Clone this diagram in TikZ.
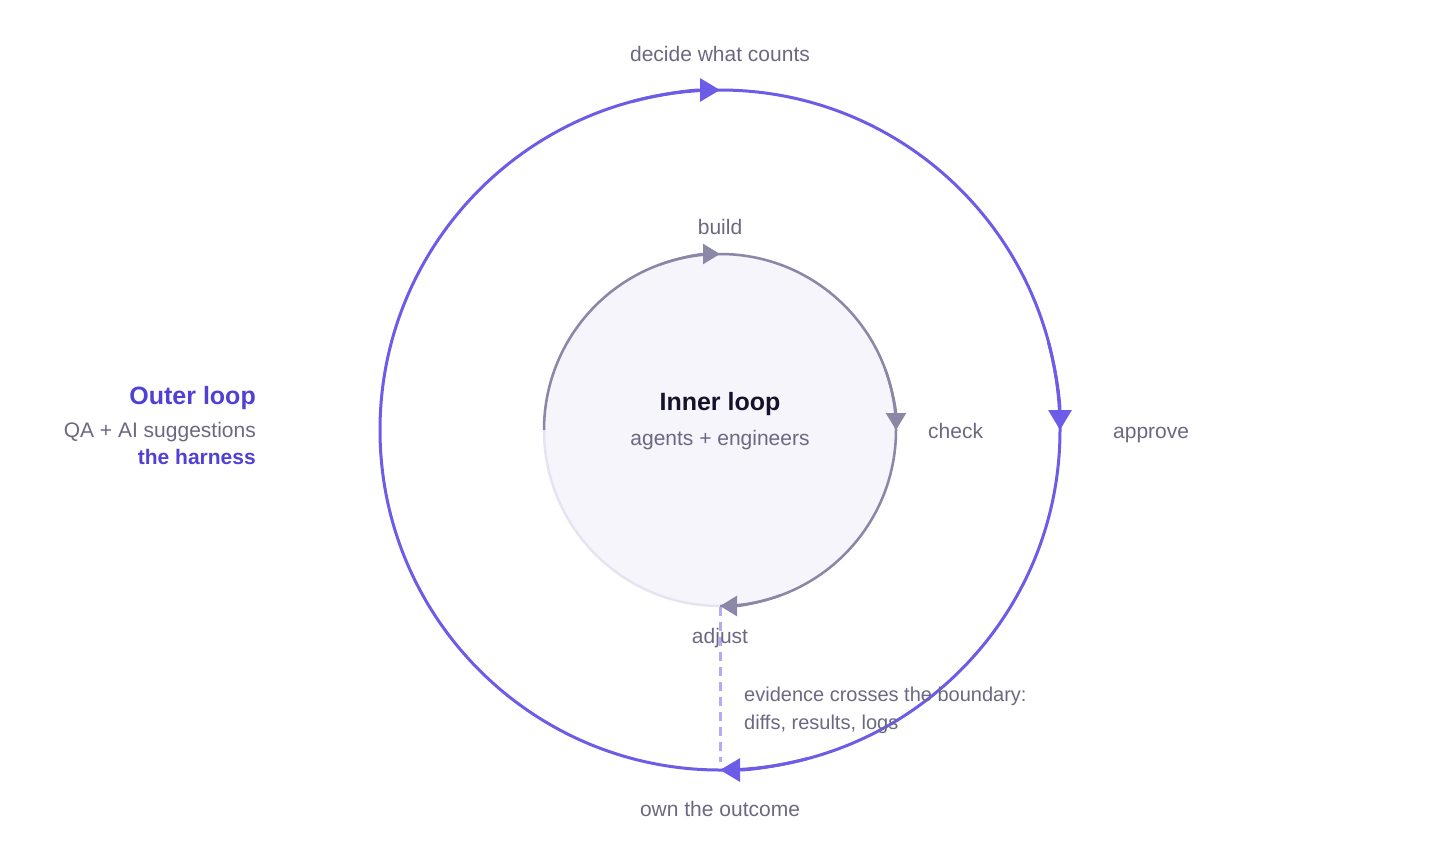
\documentclass[tikz,border=0pt]{standalone}
\usepackage{fontspec}
\setmainfont{Liberation Sans}
\usetikzlibrary{arrows.meta}
\definecolor{outerc}{HTML}{6C5CE7}
\definecolor{innerc}{HTML}{8A88A6}
\definecolor{innerlight}{HTML}{E6E4F1}
\definecolor{innerfill}{HTML}{F6F5FC}
\definecolor{labelc}{HTML}{6B6882}
\definecolor{titlec}{HTML}{15132B}
\definecolor{accentc}{HTML}{5040D6}
\definecolor{dashc}{HTML}{B5AAF3}
\begin{document}
\begin{tikzpicture}[x=1pt,y=-1pt,
  lbl/.style={text=labelc, font=\fontsize{21}{25}\selectfont, inner sep=0pt, anchor=base},
  small/.style={font=\fontsize{20}{24}\selectfont},
  outerarc/.style={draw=outerc, line width=3pt},
  innerarc/.style={draw=innerc, line width=2.5pt},
  outertip/.style={-{Triangle[length=20pt,width=23pt]}},
  innertip/.style={-{Triangle[length=17pt,width=20pt]}},
  evid/.style={draw=dashc, line width=3pt, dash pattern=on 9pt off 6pt}]
\useasboundingbox (0,0) rectangle (1440,860);
\coordinate (C) at (720,430);
% inner loop
\fill[innerfill] (C) circle[radius=176];
\draw[innerlight, line width=2.5pt] (C) circle[radius=176];
\draw[innerarc] ([shift={(180:176)}]C) arc[start angle=180, end angle=450, radius=176];
\draw[innerarc, innertip] ([shift={(250:176)}]C) arc[start angle=250, end angle=270, radius=176];
\draw[innerarc, innertip] ([shift={(-20:176)}]C) arc[start angle=-20, end angle=0, radius=176];
\draw[innerarc, innertip] ([shift={(70:176)}]C) arc[start angle=70, end angle=90, radius=176];
% outer loop
\draw[outerarc] (C) circle[radius=340];
\draw[outerarc, outertip] ([shift={(255:340)}]C) arc[start angle=255, end angle=270, radius=340];
\draw[outerarc, outertip] ([shift={(-15:340)}]C) arc[start angle=-15, end angle=0, radius=340];
\draw[outerarc, outertip] ([shift={(75:340)}]C) arc[start angle=75, end angle=90, radius=340];
% evidence connector
\coordinate (innerbottom) at (720,607);
\coordinate (outerbottom) at (720,762);
\draw[evid] (innerbottom) -- (outerbottom);
% labels
\node[lbl] (decide) at (720,61) {decide what counts};
\node[lbl] (build) at (720,234) {build};
\node[lbl, anchor=base west] (check) at (928,438) {check};
\node[lbl, anchor=base west] (approve) at (1113,438) {approve};
\node[lbl] (adjust) at (720,643) {adjust};
\node[lbl, small, anchor=base west] (ev1) at (744,701) {evidence crosses the boundary:};
\node[lbl, small, anchor=base west] (ev2) at (744,729) {diffs, results, logs};
\node[lbl] (own) at (720,816) {own the outcome};
\node[inner sep=0pt, anchor=base, text=titlec, font=\fontsize{25}{29}\selectfont\bfseries] (inner) at (720,410) {Inner loop};
\node[lbl] (agents) at (720,445) {agents + engineers};
\node[inner sep=0pt, anchor=base east, text=accentc, font=\fontsize{25}{29}\selectfont\bfseries] (outer) at (256,404) {Outer loop};
\node[lbl, anchor=base east] (qa) at (256,437) {QA + AI suggestions};
\node[inner sep=0pt, anchor=base east, text=accentc, font=\fontsize{21}{25}\selectfont\bfseries] (harness) at (256,464) {the harness};
\end{tikzpicture}
\end{document}
